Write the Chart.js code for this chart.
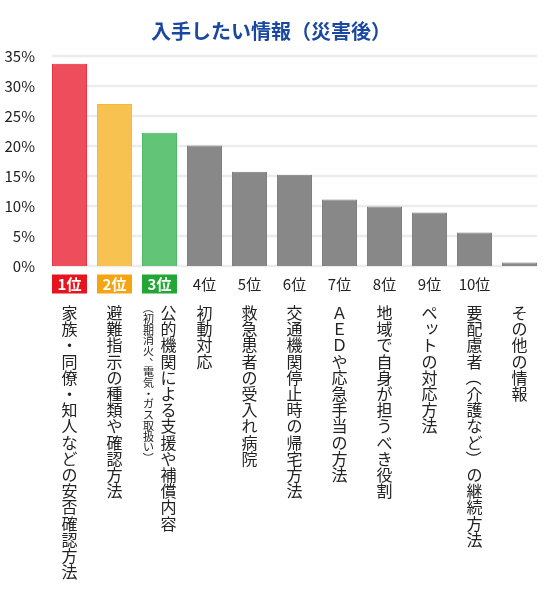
<!DOCTYPE html>
<html lang="ja">
<head>
<meta charset="utf-8">
<script src="https://cdn.jsdelivr.net/npm/chart.js@4"></script>
<style>
  html, body { margin: 0; padding: 0; background: #fff; }
  #wrap { width: 550px; height: 600px; position: relative; }
</style>
</head>
<body>
<div id="wrap"><canvas id="chart"></canvas></div>
<script>
// ── data ──
var categories = [
  '家族・同僚・知人などの安否確認方法',
  '避難指示の種類や確認方法',
  '公的機関による支援や補償内容',
  '初動対応',
  '救急患者の受入れ病院',
  '交通機関停止時の帰宅方法',
  'ＡＥＤや応急手当の方法',
  '地域で自身が担うべき役割',
  'ペットの対応方法',
  '要配慮者（介護など）の継続方法',
  'その他の情報'
];
var subLabels = ['', '', '（初期消火、電気・ガス取扱い）', '', '', '', '', '', '', '', ''];
var ranks = ['1位', '2位', '3位', '4位', '5位', '6位', '7位', '8位', '9位', '10位', ''];
var values = [33.7, 27.0, 22.2, 20.1, 15.7, 15.2, 11.1, 9.9, 8.9, 5.6, 0.6];
var yTicks = [0, 5, 10, 15, 20, 25, 30, 35];

var barFill = ['#ee4e5c', '#f7c24f', '#62c476', '#888888', '#888888', '#888888', '#888888', '#888888', '#888888', '#888888', '#888888'];
var barLine = ['#e52a34', '#f5b82e', '#45b85c', '#7a7a7a', '#7a7a7a', '#7a7a7a', '#7a7a7a', '#7a7a7a', '#7a7a7a', '#7a7a7a', '#7a7a7a'];
var rankBox = ['#e5141e', '#f6a512', '#22a635'];

var FONT = '"Noto Sans CJK JP", "Noto Sans", sans-serif';
var ROTATE = '（）()';

// draws a string top-to-bottom, one glyph per step
function drawVertical(ctx, text, x, y0, step, size) {
  ctx.font = size + 'px ' + FONT;
  ctx.textAlign = 'center';
  ctx.textBaseline = 'middle';
  var chars = Array.from(text);
  for (var k = 0; k < chars.length; k++) {
    var c = chars[k], y = y0 + k * step;
    if (ROTATE.indexOf(c) >= 0) {
      ctx.save();
      ctx.translate(x, y);
      ctx.rotate(Math.PI / 2);
      ctx.fillText(c, 0, 0);
      ctx.restore();
    } else if (c === 'ッ') {
      ctx.fillText(c, x + size * 0.15, y - size * 0.15);
    } else if (c === '、') {
      ctx.fillText(c, x + size * 0.55, y - size * 0.5);
    } else {
      ctx.fillText(c, x, y);
    }
  }
}

var gridPlugin = {
  id: 'shortGrid',
  beforeDatasetsDraw: function (chart) {
    var ctx = chart.ctx, ys = chart.scales.y, xs = chart.scales.x;
    var half = xs.getPixelForValue(1) - xs.getPixelForValue(0);
    var left = xs.getPixelForValue(0) - half * 0.39;
    var right = xs.getPixelForValue(categories.length - 1) + half * 0.39;
    ctx.save();
    ctx.strokeStyle = '#ececec';
    ctx.lineWidth = 2.5;
    yTicks.forEach(function (t) {
      var y = Math.round(ys.getPixelForValue(t));
      ctx.beginPath();
      ctx.moveTo(left, y);
      ctx.lineTo(right, y);
      ctx.stroke();
    });
    ctx.restore();
  }
};

var labelPlugin = {
  id: 'verticalLabels',
  afterDraw: function (chart) {
    var ctx = chart.ctx, xs = chart.scales.x;
    var base = chart.chartArea.bottom;
    ctx.save();
    for (var i = 0; i < categories.length; i++) {
      var x = xs.getPixelForValue(i);
      var ry = base + 18;
      if (ranks[i]) {
        ctx.textAlign = 'center';
        ctx.textBaseline = 'middle';
        if (i < 3) {
          ctx.fillStyle = rankBox[i];
          ctx.fillRect(x - 17.5, ry - 9.5, 35, 19);
          ctx.fillStyle = '#fff';
          ctx.font = 'bold 15px ' + FONT;
        } else {
          ctx.fillStyle = '#222';
          ctx.font = '15px ' + FONT;
        }
        ctx.fillText(ranks[i], x, ry);
      }
      ctx.fillStyle = '#222';
      var mainX = subLabels[i] ? x + 9 : x;
      drawVertical(ctx, categories[i], mainX, base + 47, 16.2, 16);
      if (subLabels[i]) drawVertical(ctx, subLabels[i], x - 11, base + 42, 10.7, 11);
    }
    ctx.restore();
  }
};

new Chart(document.getElementById('chart'), {
  type: 'bar',
  data: {
    labels: categories,
    datasets: [{
      data: values,
      backgroundColor: barFill,
      borderColor: barLine,
      borderWidth: 1,
      barPercentage: 1,
      categoryPercentage: 0.78
    }]
  },
  options: {
    responsive: true, maintainAspectRatio: false, animation: false,
    devicePixelRatio: 1,
    layout: { padding: { left: 0, right: 8, top: 0, bottom: 326 } },
    plugins: {
      legend: { display: false },
      tooltip: { enabled: false },
      title: {
        display: true,
        text: '入手したい情報（災害後）',
        color: '#1a48a0',
        font: { family: FONT, size: 20, weight: 'bold' },
        padding: { top: 19, bottom: 13 }
      }
    },
    scales: {
      x: {
        ticks: { display: false },
        grid: { display: false },
        border: { display: false }
      },
      y: {
        min: 0, max: 35,
        afterFit: function (s) { s.width = 47; },
        afterBuildTicks: function (s) { s.ticks = yTicks.map(function (v) { return { value: v }; }); },
        ticks: {
          padding: 4,
          color: '#222',
          font: { family: FONT, size: 15 },
          callback: function (v) { return v + '%'; }
        },
        grid: { display: false },
        border: { display: false }
      }
    }
  },
  plugins: [gridPlugin, labelPlugin]
});
</script>
</body>
</html>
